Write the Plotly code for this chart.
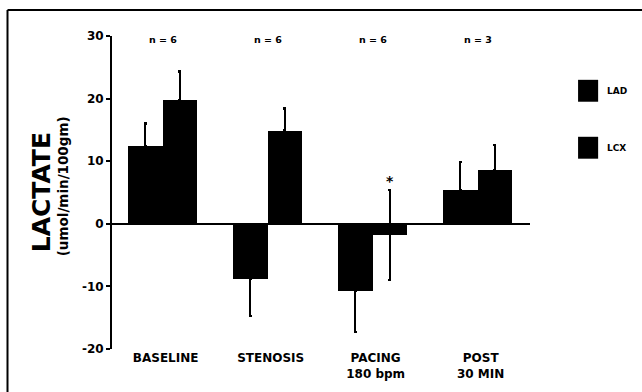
import plotly.graph_objects as go

categories = ["BASELINE", "STENOSIS", "PACING<br>180 bpm", "POST<br>30 MIN"]
n_labels = ["n = 6", "n = 6", "n = 6", "n = 3"]
lad_values = [12.4, -8.8, -10.7, 5.4]
lad_err_plus = [3.6, 0.0, 0.0, 4.5]
lad_err_minus = [0.0, 5.9, 6.6, 0.0]
lcx_values = [19.7, 14.9, -1.8, 8.6]
lcx_err_plus = [4.6, 3.5, 7.2, 4.0]
lcx_err_minus = [0.0, 0.0, 7.2, 0.0]
series_names = ["LAD", "LCX"]
y_ticks = [-20, -10, 0, 10, 20, 30]
y_tick_text = ["-20", "-10", "0", "10", "20", "30"]
sig_index = 2  # asterisk over PACING LCX

FONT = "DejaVu Sans, Liberation Sans, Arial, sans-serif"
BW = 0.333
x_idx = list(range(len(categories)))

fig = go.Figure()
err_style = dict(type="data", symmetric=False, color="black", thickness=2.5, width=1.5)
fig.add_trace(go.Bar(
    x=x_idx, y=lad_values, name="LAD", width=BW, offset=-BW,
    marker=dict(color="black", line=dict(width=0)),
    error_y=dict(array=lad_err_plus, arrayminus=lad_err_minus, **err_style),
))
fig.add_trace(go.Bar(
    x=x_idx, y=lcx_values, name="LCX", width=BW, offset=0,
    marker=dict(color="black", line=dict(width=0)),
    error_y=dict(array=lcx_err_plus, arrayminus=lcx_err_minus, **err_style),
))

annotations = []
for i, lab in enumerate(n_labels):
    annotations.append(dict(x=i, y=29.5, xref="x", yref="y", text=lab, showarrow=False,
                            font=dict(family=FONT, size=9.5, weight="bold", color="black"),
                            xanchor="center", yanchor="middle"))
# significance marker
annotations.append(dict(x=sig_index + BW / 2, y=lcx_values[sig_index] + lcx_err_plus[sig_index] + 1.4,
                        xref="x", yref="y", text="*", showarrow=False,
                        font=dict(family=FONT, size=14, weight="bold", color="black"),
                        xanchor="center", yanchor="middle"))
# y-axis titles
annotations.append(dict(x=-0.168, y=0.50, xref="paper", yref="paper", text="LACTATE",
                        textangle=-90, showarrow=False,
                        font=dict(family=FONT, size=25, weight="bold", color="black"),
                        xanchor="center", yanchor="middle"))
annotations.append(dict(x=-0.117, y=0.52, xref="paper", yref="paper", text="(umol/min/100gm)",
                        textangle=-90, showarrow=False,
                        font=dict(family=FONT, size=13.5, weight="bold", color="black"),
                        xanchor="center", yanchor="middle"))
# legend labels
leg_y = [0.825, 0.643]
for name, yy in zip(series_names, leg_y):
    annotations.append(dict(x=1.18, y=yy, xref="paper", yref="paper", text=name, showarrow=False,
                            font=dict(family=FONT, size=9, weight="bold", color="black"),
                            xanchor="left", yanchor="middle"))

shapes = []
for yy in leg_y:
    shapes.append(dict(type="rect", xref="paper", yref="paper",
                       x0=1.115, x1=1.163, y0=yy - 0.035, y1=yy + 0.035,
                       fillcolor="black", line=dict(width=0)))
# frame (top and left edges)
shapes.append(dict(type="line", xref="paper", yref="paper", x0=-0.25, x1=1.3, y0=1.083, y1=1.083,
                   line=dict(color="black", width=2)))
shapes.append(dict(type="line", xref="paper", yref="paper", x0=-0.25, x1=-0.25, y0=1.083, y1=-0.2,
                   line=dict(color="black", width=2)))

fig.update_layout(
    width=642, height=392,
    margin=dict(l=112, r=112, t=36, b=43),
    paper_bgcolor="white", plot_bgcolor="white",
    showlegend=False,
    bargap=0,
    annotations=annotations,
    shapes=shapes,
    font=dict(family=FONT, color="black"),
)
fig.update_xaxes(
    range=[-0.481, 3.5], tickvals=[i + 0.03 for i in x_idx], ticktext=categories,
    showline=False, showgrid=False, zeroline=False, ticks="", ticklen=0,
    tickfont=dict(family=FONT, size=12, weight="bold", color="black"),
)
fig.update_yaxes(
    range=[-20, 30], tickvals=y_ticks, ticktext=y_tick_text,
    showline=True, linecolor="black", linewidth=2,
    ticks="outside", ticklen=4, tickwidth=2, tickcolor="black",
    showgrid=False, zeroline=True, zerolinecolor="black", zerolinewidth=2,
    tickfont=dict(family=FONT, size=12, weight="bold", color="black"),
)

fig.write_html("out.html")
